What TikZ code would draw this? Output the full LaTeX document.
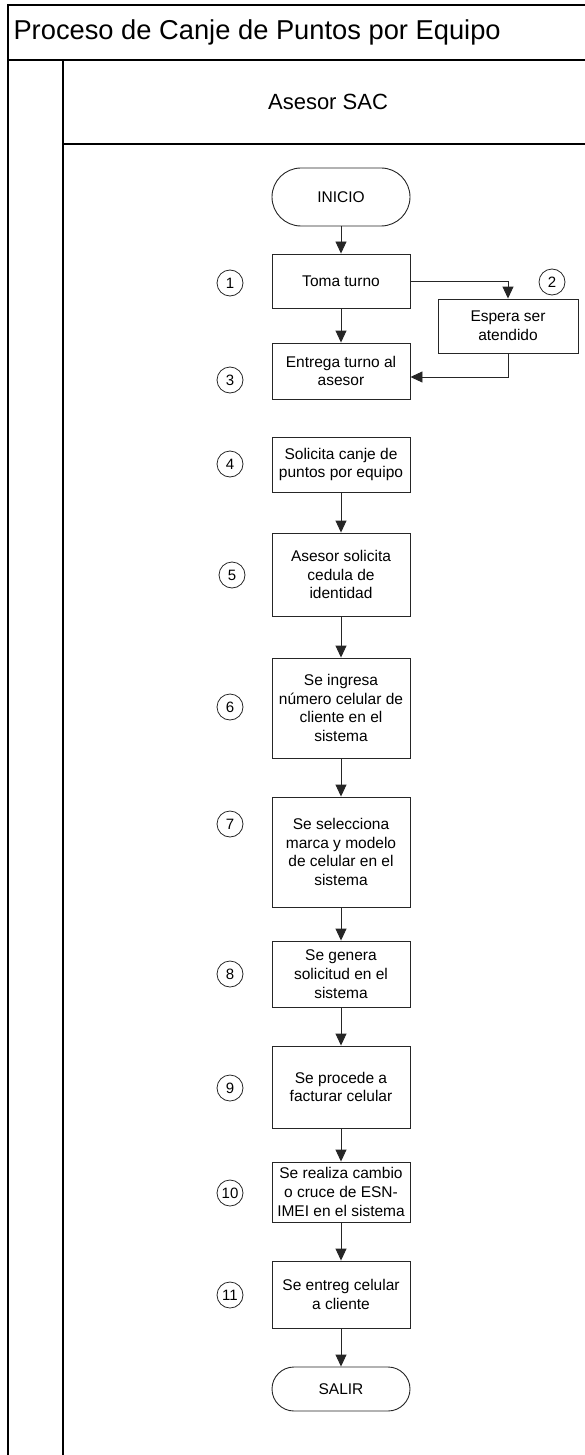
\documentclass[tikz,border=0pt]{standalone}
\usepackage{fontspec}
\setmainfont{Liberation Sans}
\usetikzlibrary{arrows.meta,positioning}

\tikzset{
  frame/.style={line width=1.3pt, draw=black},
  stepbox/.style={draw=black!85, line width=0.9pt, fill=white, align=center,
    minimum width=138pt, inner sep=2pt,
    font=\fontsize{15.5}{18.7}\selectfont},
  terminal/.style={stepbox, rounded corners=22pt},
  num/.style={draw=black!85, line width=0.8pt, circle, minimum size=26pt, inner sep=0pt,
    font=\fontsize{15}{18}\selectfont},
  flow/.style={draw=black!85, line width=0.9pt, -{Triangle[width=11pt,length=12pt]}}
}

\begin{document}
\begin{tikzpicture}[x=1pt, y=-1pt]
  \useasboundingbox (0,0) rectangle (584,1455);

  % pool frame and lane
  \draw[frame] (8,1455) -- (8,5) -- (590,5);
  \draw[frame] (8,60) -- (590,60);
  \draw[frame] (63,60) -- (63,1455);
  \draw[frame] (63,144) -- (590,144);
  \node[font=\fontsize{27.3}{32}\selectfont, anchor=west] (title) at (10,32.5)
    {Proceso de Canje de Puntos por Equipo};
  \node[font=\fontsize{22}{26}\selectfont] (lane) at (328,102) {Asesor SAC};

  % process steps
  \node[terminal, minimum height=58pt, rounded corners=29pt] (ini) at (341,197) {INICIO};
  \node[stepbox, minimum height=54pt] (s1) at (341,281) {Toma turno};
  \node[stepbox, minimum width=140pt, minimum height=54pt] (s2) at (508,326) {Espera ser\\atendido};
  \node[stepbox, minimum height=56pt] (s3) at (341,371) {Entrega turno al\\asesor};
  \node[stepbox, minimum height=55pt] (s4) at (341,464.5) {Solicita canje de\\puntos por equipo};
  \node[stepbox, minimum height=83pt] (s5) at (341,574.5) {Asesor solicita\\cedula de\\identidad};
  \node[stepbox, minimum height=100pt] (s6) at (341,708) {Se ingresa\\número celular de\\cliente en el\\sistema};
  \node[stepbox, minimum height=110pt] (s7) at (341,852) {Se selecciona\\marca y modelo\\de celular en el\\sistema};
  \node[stepbox, minimum height=66pt] (s8) at (341,974) {Se genera\\solicitud en el\\sistema};
  \node[stepbox, minimum height=82pt] (s9) at (341,1087) {Se procede a\\facturar celular};
  \node[stepbox, minimum height=60pt] (s10) at (341,1192) {Se realiza cambio\\o cruce de ESN-\\IMEI en el sistema};
  \node[stepbox, minimum height=67pt] (s11) at (341,1294.5) {Se entreg celular\\a cliente};
  \node[terminal, minimum height=44pt] (fin) at (341,1389) {SALIR};

  % step numbers
  \node[num] (n1) at (230,283) {1};
  \node[num] (n2) at (552,282) {2};
  \node[num] (n3) at (230,380) {3};
  \node[num] (n4) at (230,464) {4};
  \node[num] (n5) at (232,575) {5};
  \node[num] (n6) at (230,707) {6};
  \node[num] (n7) at (230,824) {7};
  \node[num] (n8) at (230,974) {8};
  \node[num] (n9) at (230,1088) {9};
  \node[num] (n10) at (230,1193) {10};
  \node[num] (n11) at (230,1295) {11};

  % connectors
  \draw[flow] (ini) -- (s1);
  \draw[flow] (s1) -- (s3);
  \draw[flow] (s1.east) -| (s2.north);
  \draw[flow] (s2.south) |- ([yshift=-6pt]s3.east);
  \draw[flow] (s4) -- (s5);
  \draw[flow] (s5) -- (s6);
  \draw[flow] (s6) -- (s7);
  \draw[flow] (s7) -- (s8);
  \draw[flow] (s8) -- (s9);
  \draw[flow] (s9) -- (s10);
  \draw[flow] (s10) -- (s11);
  \draw[flow] (s11) -- (fin);
\end{tikzpicture}
\end{document}
